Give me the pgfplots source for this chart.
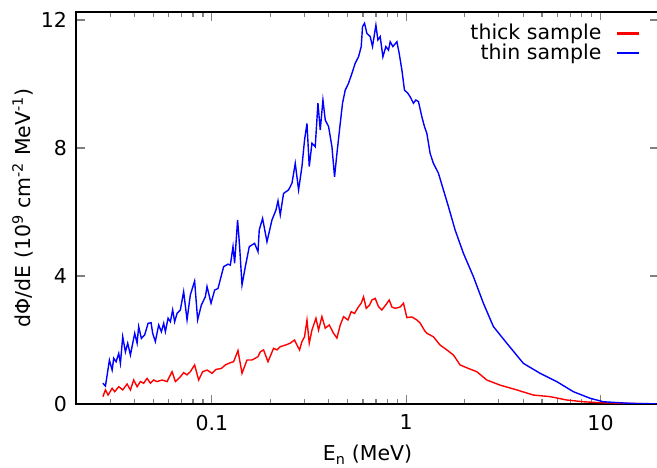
\documentclass[border=0pt]{standalone}
\usepackage{fontspec}
\setmainfont{DejaVu Sans}
\usepackage{pgfplots}
\pgfplotsset{compat=1.18}

% red: thick sample, blue: thin sample (x in MeV, y in 1e9 cm^-2 MeV^-1)
\begin{document}
\fontsize{20.5}{24}\selectfont
\begin{tikzpicture}
\begin{axis}[
    at={(0pt,0pt)}, anchor=south west,
    xmode=log,
    scale only axis,
    width=583pt, height=392pt,
    xmin=0.02, xmax=20,
    ymin=0, ymax=12.25,
    xtick={0.1,1,10},
    xticklabels={0.1,1,10},
    minor xtick={0.02,0.03,0.04,0.05,0.06,0.07,0.08,0.09,0.2,0.3,0.4,0.5,0.6,0.7,0.8,0.9,2,3,4,5,6,7,8,9,20},
    ytick={0,4,8,12},
    tick align=inside,
    tick pos=both,
    major tick length=9pt,
    minor tick length=5pt,
    tick style={line width=1.2pt},
    axis line style={line width=1.5pt},
    font=\fontsize{20.5}{24}\selectfont,
    /pgf/number format/assume math mode=true,
    yticklabel style={xshift=-2pt},
    xticklabel style={yshift=-4pt},
    xlabel={E\textsubscript{n} (MeV)},
    ylabel={dΦ/dE (10\textsuperscript{9} cm\textsuperscript{-2} MeV\textsuperscript{-1})},
    xlabel style={yshift=-1pt},
    ylabel style={yshift=-6pt},
    legend plot pos=right,
    legend cell align=right,
    legend style={at={(rel axis cs:1,1)}, anchor=north east,
        xshift=-17pt, yshift=-8pt, font=\fontsize{20.5}{24}\selectfont, row sep=-3pt},
    every axis legend/.append style={draw=white, fill=white},
]
\addplot[red, line width=1.4pt,
    legend image code/.code={\path (0pt,0pt); \fill[fill=red] (14pt,-0.6pt) rectangle (34pt,0.6pt);}] coordinates {
(0.0275,0.23) (0.02835,0.44) (0.02926,0.28) (0.03069,0.49) (0.03164,0.385)
(0.03318,0.54) (0.03479,0.44) (0.03664,0.625) (0.03811,0.44) (0.03962,0.75)
(0.04125,0.54) (0.04289,0.70) (0.04460,0.65) (0.04643,0.80) (0.04829,0.65)
(0.05021,0.75) (0.05226,0.70) (0.05545,0.75) (0.05884,0.70) (0.06243,1.01)
(0.06493,0.70) (0.06887,0.85) (0.07161,0.98) (0.07456,0.91) (0.07753,1.01)
(0.08156,1.22) (0.08553,0.75) (0.08969,1.01) (0.09447,1.06) (0.1002,0.96)
(0.1051,1.08) (0.1119,1.11) (0.1173,1.22) (0.1245,1.29) (0.1294,1.32)
(0.1363,1.67) (0.1430,0.96) (0.1517,1.375) (0.1609,1.375) (0.1674,1.43)
(0.1728,1.48) (0.1776,1.63) (0.1846,1.69) (0.1945,1.32) (0.2078,1.74)
(0.2163,1.69) (0.2250,1.79) (0.2386,1.84) (0.2533,1.90) (0.2665,2.00)
(0.2742,1.84) (0.2828,1.69) (0.2909,1.95) (0.3000,2.10) (0.3087,2.625)
(0.3172,1.90) (0.3275,2.31) (0.3434,2.68) (0.3541,2.31) (0.3686,2.73)
(0.3834,2.37) (0.4020,2.47) (0.4229,2.21) (0.4403,2.06) (0.4579,2.47)
(0.4762,2.73) (0.5016,2.625) (0.5215,2.885) (0.5423,2.83) (0.5687,3.04)
(0.5872,3.15) (0.6034,3.35) (0.6229,2.99) (0.6478,3.09) (0.6665,3.25)
(0.6930,3.30) (0.7207,3.04) (0.7500,2.94) (0.7865,3.10) (0.8177,3.25)
(0.8444,3.03) (0.8779,2.99) (0.9315,3.03) (0.9686,3.15) (1.0083,2.70)
(1.0698,2.72) (1.1350,2.625) (1.1803,2.53) (1.2417,2.30) (1.2774,2.21)
(1.3814,2.10) (1.4956,1.84) (1.6197,1.69) (1.7508,1.53) (1.8954,1.22)
(2.0907,1.11) (2.3089,1.01) (2.5994,0.75) (3.0430,0.59) (3.7084,0.44)
(4.5130,0.28) (5.5000,0.23) (6.7020,0.125) (8.1586,0.07) (9.9408,0.04)
(15.96,0.01) (19.5,0.005)
};
\addlegendentry{thick sample}
\addplot[blue, line width=1.4pt,
    legend image code/.code={\path (0pt,0pt); \fill[fill=blue] (14pt,-0.6pt) rectangle (34pt,0.6pt);}] coordinates {
(0.0275,0.65) (0.02835,0.56) (0.02972,1.37) (0.03069,1.06) (0.03127,1.43)
(0.03217,1.32) (0.03318,1.58) (0.03386,1.27) (0.03479,2.10) (0.03592,1.63)
(0.03691,1.90) (0.03811,1.53) (0.04010,2.21) (0.04125,1.90) (0.04203,2.42)
(0.04340,2.05) (0.04513,2.16) (0.04699,2.52) (0.04868,2.54) (0.04961,2.21)
(0.05122,1.95) (0.05327,2.47) (0.05500,2.26) (0.05652,2.52) (0.05766,2.26)
(0.05954,2.68) (0.06118,2.57) (0.06287,2.94) (0.06437,2.57) (0.06623,2.83)
(0.06887,2.94) (0.07161,3.51) (0.07456,2.63) (0.07753,3.41) (0.08156,3.84)
(0.08453,2.63) (0.08831,3.09) (0.09260,3.35) (0.09447,3.67) (0.09906,3.15)
(0.1034,3.56) (0.1076,3.61) (0.1150,4.29) (0.1211,4.37) (0.1245,4.34)
(0.1285,4.92) (0.1310,4.40) (0.1357,5.75) (0.1390,4.92) (0.1430,3.72)
(0.1487,4.29) (0.1559,4.92) (0.1660,5.02) (0.1728,4.76) (0.1754,5.44)
(0.1825,5.80) (0.1922,5.07) (0.2039,5.75) (0.2138,6.06) (0.2190,6.35)
(0.2250,5.91) (0.2339,6.58) (0.2482,6.69) (0.2585,6.90) (0.2687,7.52)
(0.2795,6.69) (0.2909,7.42) (0.3000,8.25) (0.3087,8.77) (0.3172,7.42)
(0.3275,8.15) (0.3405,8.04) (0.3516,9.40) (0.3613,8.56) (0.3731,9.50)
(0.3834,8.875) (0.3988,8.67) (0.4150,8.04) (0.4280,7.10) (0.4403,7.83)
(0.4579,8.77) (0.4705,9.40) (0.4858,9.81) (0.5050,10.02) (0.5258,10.33)
(0.5469,10.65) (0.5687,10.85) (0.5872,11.17) (0.5963,11.79) (0.6106,11.90)
(0.6281,11.58) (0.6531,11.48) (0.6711,11.17) (0.6987,11.84) (0.7155,11.375)
(0.7352,11.48) (0.7591,10.85) (0.7865,11.17) (0.8110,11.06) (0.8275,11.32)
(0.8544,11.17) (0.8959,11.32) (0.9205,10.96) (0.9504,10.44) (0.9801,9.81)
(1.0202,9.71) (1.0485,9.60) (1.0902,9.40) (1.1216,9.50) (1.1566,9.45)
(1.2041,8.98) (1.2417,8.67) (1.2774,8.46) (1.3284,7.83) (1.3814,7.52)
(1.4659,7.21) (1.5550,6.69) (1.6497,6.17) (1.7858,5.44) (1.9705,4.71)
(2.2182,3.98) (2.4963,3.15) (2.8107,2.42) (3.2943,1.90) (4.0094,1.27)
(4.8865,0.96) (5.9550,0.70) (7.2478,0.385) (8.8308,0.18) (10.337,0.07)
(14.18,0.02) (19.5,0.005)
};
\addlegendentry{thin sample}
\end{axis}
\pgfresetboundingbox
\path (-76pt,-64pt) rectangle (581pt,404pt);
\end{tikzpicture}
\end{document}
